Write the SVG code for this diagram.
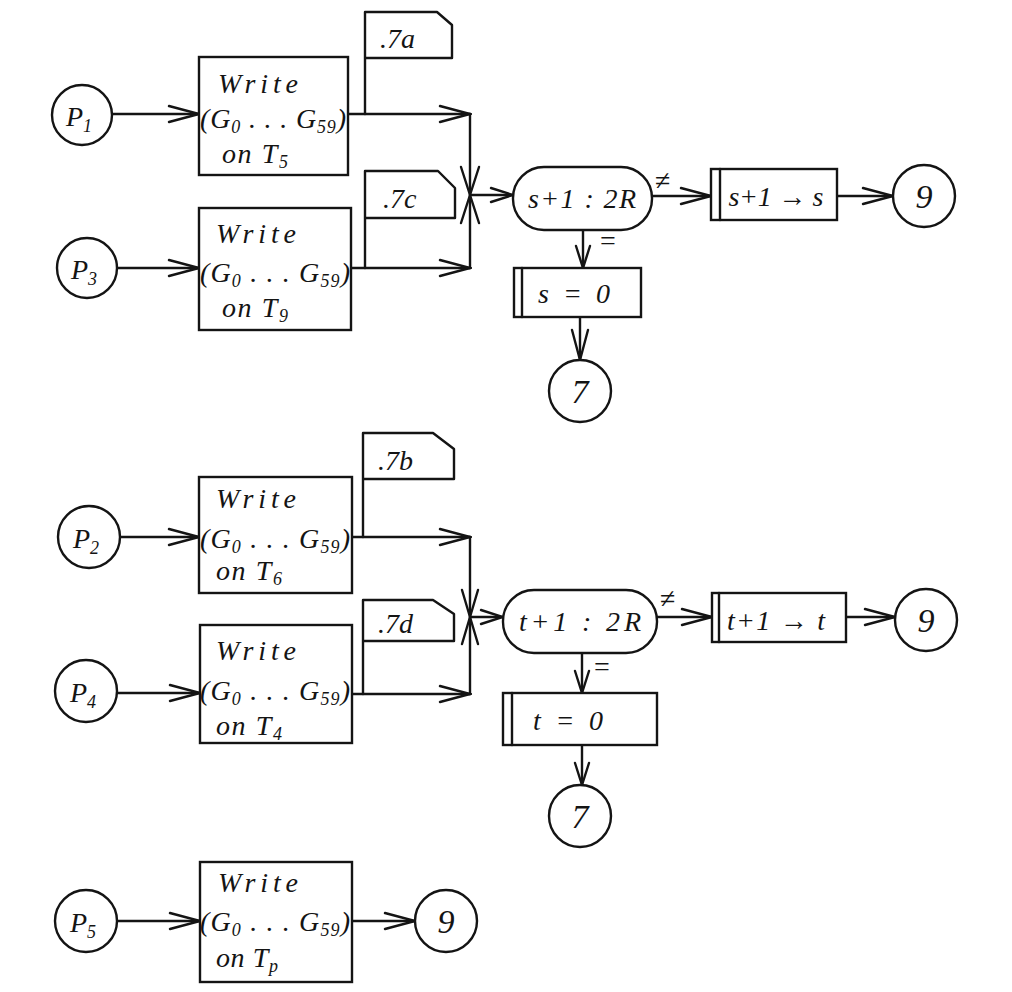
<svg xmlns="http://www.w3.org/2000/svg" width="1012" height="992" viewBox="0 0 1012 992">
<style>
.ln{fill:none;stroke:#141414;stroke-width:2.4;stroke-linecap:round;stroke-linejoin:round}
.sh{fill:#fff;stroke:#141414;stroke-width:2.4}
.t{font-family:"Liberation Serif",serif;font-style:italic;font-size:28px;fill:#141414}
.c{font-family:"Liberation Serif",serif;font-style:italic;font-size:34px;fill:#141414;text-anchor:middle}
.s{font-size:18px}
.m{font-family:"Liberation Serif",serif;font-size:28px;fill:#141414}
</style>
<defs>
<marker id="ar" viewBox="-34 -12 36 24" refX="0" refY="0" markerWidth="36" markerHeight="24" markerUnits="userSpaceOnUse" orient="auto">
<path d="M-30,-8 L0,0 L-30,8" fill="none" stroke="#141414" stroke-width="2.4" stroke-linecap="round"/>
</marker>
<marker id="as" viewBox="-26 -10 28 20" refX="0" refY="0" markerWidth="28" markerHeight="20" markerUnits="userSpaceOnUse" orient="auto">
<path d="M-22,-7 L0,0 L-22,7" fill="none" stroke="#141414" stroke-width="2.4" stroke-linecap="round"/>
</marker>
</defs>
<rect width="1012" height="992" fill="#fff"/>

<g id="connectors" class="ln">
<!-- top section -->
<line x1="112" y1="114" x2="199" y2="114" marker-end="url(#ar)"/>
<line x1="348" y1="114" x2="470" y2="114" marker-end="url(#ar)"/>
<line x1="470" y1="114" x2="470" y2="268"/>
<line x1="117" y1="268" x2="199" y2="268" marker-end="url(#ar)"/>
<line x1="351" y1="268" x2="470" y2="268" marker-end="url(#ar)"/>
<path d="M461,167 L470,195 L479,167 M461,223 L470,195 L479,223"/>
<line x1="470" y1="195" x2="513" y2="195" marker-end="url(#as)"/>
<line x1="652" y1="196" x2="711" y2="196" marker-end="url(#ar)"/>
<line x1="837" y1="196" x2="893" y2="196" marker-end="url(#ar)"/>
<line x1="583" y1="230" x2="583" y2="268" marker-end="url(#as)"/>
<line x1="580" y1="317" x2="580" y2="360" marker-end="url(#ar)"/>
<!-- middle section -->
<line x1="120" y1="537" x2="199" y2="537" marker-end="url(#ar)"/>
<line x1="352" y1="537" x2="470" y2="537" marker-end="url(#ar)"/>
<line x1="470" y1="537" x2="470" y2="694"/>
<line x1="117" y1="693" x2="200" y2="693" marker-end="url(#ar)"/>
<line x1="352" y1="694" x2="470" y2="694" marker-end="url(#ar)"/>
<path d="M462,590 L470,617 L478,590 M462,644 L470,617 L478,644"/>
<line x1="470" y1="617" x2="503" y2="617" marker-end="url(#as)"/>
<line x1="657" y1="617" x2="712" y2="617" marker-end="url(#ar)"/>
<line x1="846" y1="617" x2="895" y2="617" marker-end="url(#ar)"/>
<line x1="582" y1="653" x2="582" y2="693" marker-end="url(#as)"/>
<line x1="582" y1="745" x2="582" y2="785" marker-end="url(#as)"/>
<!-- bottom section -->
<line x1="117" y1="921" x2="200" y2="921" marker-end="url(#ar)"/>
<line x1="352" y1="921" x2="415" y2="921" marker-end="url(#ar)"/>
</g>

<!-- top section nodes -->
<g id="p1"><circle class="sh" cx="82" cy="115" r="30"/><text class="t" x="66" y="126" font-size="30">P<tspan class="s" dy="6">1</tspan></text></g>
<g id="write-t5"><rect class="sh" x="199" y="57" width="149" height="118"/>
<text class="t" x="218" y="93" textLength="80">Write</text>
<text class="t" x="200" y="128" textLength="146">(G<tspan class="s" dy="5">0</tspan><tspan dy="-5"> . . .  G</tspan><tspan class="s" dy="5">59</tspan><tspan dy="-5">)</tspan></text>
<text class="t" x="222" y="163" textLength="66">on T<tspan class="s" dy="5">5</tspan></text></g>
<g id="card-7a"><path class="ln" d="M365,114 V12 H437 L452,25 V58 H365"/><text class="t" x="380" y="48">.7a</text></g>

<g id="p3"><circle class="sh" cx="87" cy="268" r="30"/><text class="t" x="71" y="279" font-size="30">P<tspan class="s" dy="6">3</tspan></text></g>
<g id="write-t9"><rect class="sh" x="199" y="208" width="152" height="122"/>
<text class="t" x="216" y="243" textLength="80">Write</text>
<text class="t" x="200" y="282" textLength="150">(G<tspan class="s" dy="5">0</tspan><tspan dy="-5"> . . .  G</tspan><tspan class="s" dy="5">59</tspan><tspan dy="-5">)</tspan></text>
<text class="t" x="222" y="317" textLength="66">on T<tspan class="s" dy="5">9</tspan></text></g>
<g id="card-7c"><path class="ln" d="M365,268 V171 H438 L455,188 V218 H365"/><text class="t" x="383" y="208">.7c</text></g>

<g id="dec-s"><rect class="sh" x="513" y="167" width="139" height="63" rx="31"/><text class="t" x="582" y="208" text-anchor="middle" textLength="108">s+1 : 2R</text></g>
<text class="m" x="655" y="190">≠</text>
<text class="m" x="600" y="250">=</text>
<g id="inc-s"><rect class="sh" x="711" y="169" width="126" height="51"/><line class="ln" x1="720" y1="169" x2="720" y2="220"/><text class="t" x="776" y="206" text-anchor="middle" textLength="95">s+1 → s</text></g>
<g id="c9-a"><circle class="sh" cx="924" cy="196" r="31"/><text class="c" x="924" y="208">9</text></g>
<g id="zero-s"><rect class="sh" x="514" y="268" width="127" height="49"/><line class="ln" x1="522" y1="268" x2="522" y2="317"/><text class="t" x="574" y="303" text-anchor="middle" textLength="72">s = 0</text></g>
<g id="c7-a"><circle class="sh" cx="580" cy="391" r="31"/><text class="c" x="580" y="403">7</text></g>

<!-- middle section nodes -->
<g id="p2"><circle class="sh" cx="89" cy="537" r="31"/><text class="t" x="73" y="548" font-size="30">P<tspan class="s" dy="6">2</tspan></text></g>
<g id="write-t6"><rect class="sh" x="199" y="477" width="153" height="116"/>
<text class="t" x="216" y="508" textLength="80">Write</text>
<text class="t" x="200" y="548" textLength="150">(G<tspan class="s" dy="5">0</tspan><tspan dy="-5"> . . .  G</tspan><tspan class="s" dy="5">59</tspan><tspan dy="-5">)</tspan></text>
<text class="t" x="216" y="580" textLength="66">on T<tspan class="s" dy="5">6</tspan></text></g>
<g id="card-7b"><path class="ln" d="M363,537 V433 H433 L454,449 V479 H363"/><text class="t" x="378" y="470">.7b</text></g>

<g id="p4"><circle class="sh" cx="86" cy="691" r="31"/><text class="t" x="70" y="702" font-size="30">P<tspan class="s" dy="6">4</tspan></text></g>
<g id="write-t4"><rect class="sh" x="200" y="625" width="152" height="118"/>
<text class="t" x="216" y="660" textLength="80">Write</text>
<text class="t" x="200" y="700" textLength="150">(G<tspan class="s" dy="5">0</tspan><tspan dy="-5"> . . .  G</tspan><tspan class="s" dy="5">59</tspan><tspan dy="-5">)</tspan></text>
<text class="t" x="216" y="735" textLength="66">on T<tspan class="s" dy="5">4</tspan></text></g>
<g id="card-7d"><path class="ln" d="M363,694 V600 H433 L454,614 V641 H363"/><text class="t" x="378" y="633">.7d</text></g>

<g id="dec-t"><rect class="sh" x="503" y="590" width="154" height="63" rx="31"/><text class="t" x="580" y="631" text-anchor="middle" textLength="122">t+1 : 2R</text></g>
<text class="m" x="660" y="608">≠</text>
<text class="m" x="594" y="676">=</text>
<g id="inc-t"><rect class="sh" x="712" y="593" width="134" height="49"/><line class="ln" x1="719" y1="593" x2="719" y2="642"/><text class="t" x="776" y="630" text-anchor="middle" textLength="98">t+1 → t</text></g>
<g id="c9-b"><circle class="sh" cx="926" cy="620" r="31"/><text class="c" x="926" y="632">9</text></g>
<g id="zero-t"><rect class="sh" x="503" y="693" width="154" height="52"/><line class="ln" x1="512" y1="693" x2="512" y2="745"/><text class="t" x="568" y="730" text-anchor="middle" textLength="70">t = 0</text></g>
<g id="c7-b"><circle class="sh" cx="580" cy="816" r="31"/><text class="c" x="580" y="828">7</text></g>

<!-- bottom section nodes -->
<g id="p5"><circle class="sh" cx="86" cy="921" r="31"/><text class="t" x="70" y="932" font-size="30">P<tspan class="s" dy="6">5</tspan></text></g>
<g id="write-tp"><rect class="sh" x="200" y="862" width="152" height="120"/>
<text class="t" x="218" y="892" textLength="80">Write</text>
<text class="t" x="200" y="931" textLength="150">(G<tspan class="s" dy="5">0</tspan><tspan dy="-5"> . . .  G</tspan><tspan class="s" dy="5">59</tspan><tspan dy="-5">)</tspan></text>
<text class="t" x="216" y="967" textLength="62">on T<tspan class="s" dy="5">p</tspan></text></g>
<g id="c9-c"><circle class="sh" cx="446" cy="921" r="31"/><text class="c" x="446" y="933">9</text></g>
</svg>
